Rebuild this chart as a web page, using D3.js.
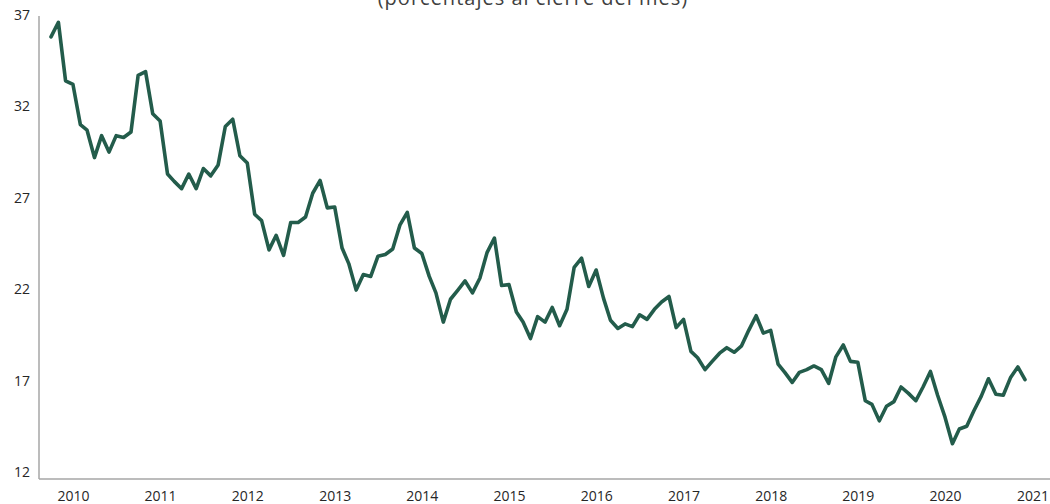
<!DOCTYPE html>
<html>
<head>
<meta charset="utf-8">
<script src="https://cdn.jsdelivr.net/npm/d3@7"></script>
<style>
  body { margin: 0; background: #fff; }
  svg { display: block; }
  text { font-family: "Open Sans", sans-serif; }
</style>
</head>
<body>
<div id="chart"></div>
<script>
// monthly series, Oct 2009 .. Dec 2020
var startMonth = "2009-10";
var values = [
  35.8, 36.6, 33.4, 33.2, 31.0, 30.7, 29.2, 30.4, 29.5, 30.4, 30.3, 30.6,
  33.7, 33.9, 31.6, 31.2, 28.3, 27.9, 27.5, 28.3, 27.5, 28.6, 28.2, 28.8,
  30.9, 31.3, 29.3, 28.9, 26.1, 25.75, 24.15, 24.95, 23.85, 25.65, 25.65, 25.95,
  27.25, 27.95, 26.45, 26.5, 24.25, 23.4, 21.95, 22.8, 22.7, 23.8, 23.9, 24.2,
  25.5, 26.2, 24.25, 23.95, 22.7, 21.8, 20.2, 21.45, 21.95, 22.45, 21.8, 22.6,
  24.0, 24.8, 22.2, 22.25, 20.75, 20.2, 19.3, 20.5, 20.2, 21.0, 20.0, 20.9,
  23.2, 23.7, 22.15, 23.05, 21.5, 20.3, 19.85, 20.1, 19.95, 20.6, 20.35, 20.9,
  21.3, 21.6, 19.9, 20.35, 18.6, 18.25, 17.6, 18.05, 18.5, 18.8, 18.55, 18.9,
  19.75, 20.55, 19.6, 19.75, 17.9, 17.45, 16.9, 17.45, 17.6, 17.8, 17.6, 16.85,
  18.3, 18.95, 18.05, 18.0, 15.9, 15.7, 14.8, 15.6, 15.85, 16.65, 16.3, 15.9,
  16.65, 17.5, 16.2, 15.0, 13.55, 14.35, 14.5, 15.35, 16.15, 17.1, 16.25, 16.2,
  17.15, 17.75, 17.05
];
var yearLabels = ["2010", "2011", "2012", "2013", "2014", "2015", "2016", "2017", "2018", "2019", "2020", "2021"];
var yTicks = [12, 17, 22, 27, 32, 37];
var title = "(porcentajes al cierre del mes)";

var width = 1050,
    height = 504;

var parseMonth = d3.timeParse("%Y-%m");
var t0 = parseMonth(startMonth);
var data = values.map(function(v, i) {
  return { date: d3.timeMonth.offset(t0, i), value: v };
});

var svg = d3.select("#chart").append("svg")
    .attr("width", width)
    .attr("height", height);

var x = d3.scaleTime()
    .domain([data[0].date, data[data.length - 1].date])
    .range([51, 1025]);

var y = d3.scaleLinear()
    .domain([12, 37])
    .range([472, 15]);

// title, its upper part runs off the top edge as in the source
svg.append("text")
    .attr("x", 533)
    .attr("y", 4.5)
    .attr("text-anchor", "middle")
    .style("font-size", "20px")
    .style("letter-spacing", "1px")
    .style("fill", "#404040")
    .text(title);

// axis lines
svg.append("line")
    .attr("x1", 39).attr("x2", 39)
    .attr("y1", 16).attr("y2", 479)
    .attr("stroke", "#a6a6a6").attr("stroke-width", 1.5);

svg.append("line")
    .attr("x1", 39).attr("x2", width)
    .attr("y1", 479).attr("y2", 479)
    .attr("stroke", "#a6a6a6").attr("stroke-width", 1.5);

// y axis
var yAxis = svg.append("g")
    .attr("transform", "translate(39,0)")
    .call(d3.axisLeft(y).tickValues(yTicks).tickSize(0).tickPadding(9));
yAxis.select(".domain").remove();
yAxis.selectAll("text")
    .style("font-family", "'Open Sans', sans-serif")
    .style("font-size", "14px")
    .style("fill", "#262626");

// x axis: year labels at January
var yearDates = yearLabels.map(function(s) { return parseMonth(s + "-01"); });
var xAxis = svg.append("g")
    .attr("transform", "translate(0,479)")
    .call(d3.axisBottom(x).tickValues(yearDates).tickSize(0).tickPadding(12)
      .tickFormat(d3.timeFormat("%Y")));
xAxis.select(".domain").remove();
xAxis.selectAll("text")
    .style("font-family", "'Open Sans', sans-serif")
    .style("font-size", "14px")
    .style("fill", "#262626");

// the line
var line = d3.line()
    .x(function(d) { return x(d.date); })
    .y(function(d) { return y(d.value); });

svg.append("path")
    .datum(data)
    .attr("fill", "none")
    .attr("stroke", "#235c4b")
    .attr("stroke-width", 3.6)
    .attr("stroke-linejoin", "round")
    .attr("stroke-linecap", "round")
    .attr("d", line);
</script>
</body>
</html>
